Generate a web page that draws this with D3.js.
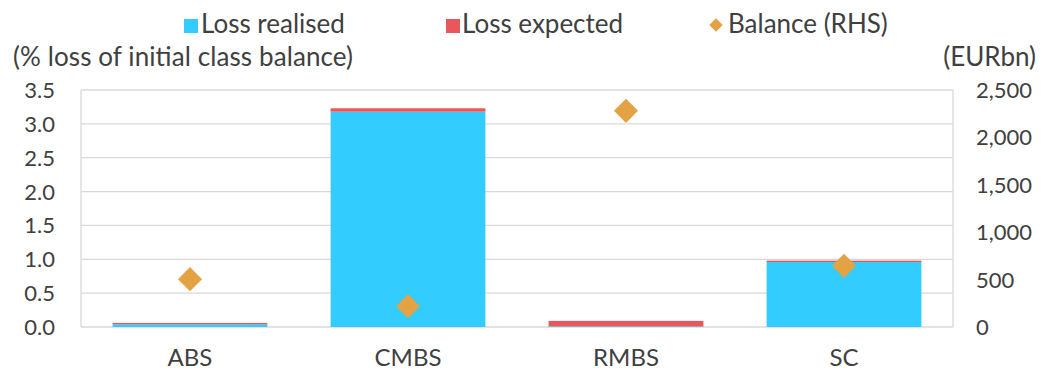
<!DOCTYPE html>
<html lang="en">
  <head>
    <meta charset="UTF-8" />
    <title>Securitisation losses</title>
    <style>
      body { margin: 0; background: #fff; }
      svg text { font-family: Lato, 'Open Sans', sans-serif; fill: #404040; }
    </style>
  </head>
  <body>
    <svg id="svg" width="1048" height="370"></svg>
    <script src="https://d3js.org/d3.v7.min.js"></script>
    <script>
      const categories = ['ABS', 'CMBS', 'RMBS', 'SC'];
      const lossRealised = [0.04, 3.18, 0.01, 0.96];
      const lossExpected = [0.02, 0.05, 0.08, 0.02];
      const balance = [505, 220, 2280, 645];
      const leftTicks = [0, 0.5, 1, 1.5, 2, 2.5, 3, 3.5];
      const rightTicks = [0, 500, 1000, 1500, 2000, 2500];

      const svg = d3.select('#svg');
      const m = { left: 81, right: 953, top: 90, bottom: 327 };

      const x = d3.scaleBand().domain(categories).range([m.left, m.right]).paddingInner(0.29).paddingOuter(0.145);
      const y = d3.scaleLinear().domain([0, 3.5]).range([m.bottom, m.top]);
      const y2 = d3.scaleLinear().domain([0, 2500]).range([m.bottom, m.top]);

      // grid
      svg.append('g').selectAll('line').data(leftTicks).enter().append('line')
        .attr('x1', m.left).attr('x2', m.right)
        .attr('y1', d => y(d)).attr('y2', d => y(d))
        .attr('stroke', '#d9d9d9').attr('stroke-width', 1.3);
      svg.append('line').attr('x1', m.left).attr('x2', m.left).attr('y1', m.top).attr('y2', m.bottom)
        .attr('stroke', '#d9d9d9').attr('stroke-width', 1.3);
      svg.append('line').attr('x1', m.right).attr('x2', m.right).attr('y1', m.top).attr('y2', m.bottom)
        .attr('stroke', '#d9d9d9').attr('stroke-width', 1.3);

      // bars
      const rows = categories.map((c, i) => ({ c, r: lossRealised[i], e: lossExpected[i], b: balance[i] }));
      svg.append('g').selectAll('rect').data(rows).enter().append('rect')
        .attr('x', d => x(d.c)).attr('width', x.bandwidth())
        .attr('y', d => y(d.r)).attr('height', d => y(0) - y(d.r))
        .attr('fill', '#33ccff');
      svg.append('g').selectAll('rect').data(rows).enter().append('rect')
        .attr('x', d => x(d.c)).attr('width', x.bandwidth())
        .attr('y', d => y(d.r + d.e)).attr('height', d => y(d.r) - y(d.r + d.e))
        .attr('fill', '#e8575a');

      // diamonds
      const diamond = d3.symbol().type(d3.symbolSquare).size(290);
      svg.append('g').selectAll('path').data(rows).enter().append('path')
        .attr('d', diamond)
        .attr('transform', d => `translate(${x(d.c) + x.bandwidth() / 2},${y2(d.b)}) rotate(45)`)
        .attr('fill', '#e3a244');

      // left axis
      svg.append('g').selectAll('text').data(leftTicks).enter().append('text')
        .attr('x', 55).attr('y', d => y(d) + 8)
        .attr('text-anchor', 'end').attr('font-size', 22)
        .text(d => d3.format('.1f')(d));
      // right axis
      svg.append('g').selectAll('text').data(rightTicks).enter().append('text')
        .attr('x', 976).attr('y', d => y2(d) + 8)
        .attr('font-size', 22)
        .text(d => d3.format(',')(d));
      // categories
      svg.append('g').selectAll('text').data(categories).enter().append('text')
        .attr('x', d => x(d) + x.bandwidth() / 2).attr('y', 366)
        .attr('text-anchor', 'middle').attr('font-size', 24)
        .text(d => d);

      svg.append('text').attr('x', 13).attr('y', 66).attr('font-size', 26)
        .attr('textLength', 340)
        .text('(% loss of initial class balance)');
      svg.append('text').attr('x', 1036).attr('y', 66).attr('font-size', 26)
        .attr('text-anchor', 'end').text('(EURbn)');

      // legend
      const lg = svg.append('g');
      lg.append('rect').attr('x', 184).attr('y', 19).attr('width', 14).attr('height', 14).attr('fill', '#33ccff');
      lg.append('text').attr('x', 201).attr('y', 33).attr('font-size', 26).text('Loss realised');
      lg.append('rect').attr('x', 446).attr('y', 19).attr('width', 14).attr('height', 14).attr('fill', '#e8575a');
      lg.append('text').attr('x', 462).attr('y', 33).attr('font-size', 26).text('Loss expected');
      lg.append('path').attr('d', d3.symbol().type(d3.symbolSquare).size(90))
        .attr('transform', 'translate(716,25) rotate(45)').attr('fill', '#e3a244');
      lg.append('text').attr('x', 728).attr('y', 33).attr('font-size', 26).text('Balance (RHS)');
    </script>
  </body>
</html>
